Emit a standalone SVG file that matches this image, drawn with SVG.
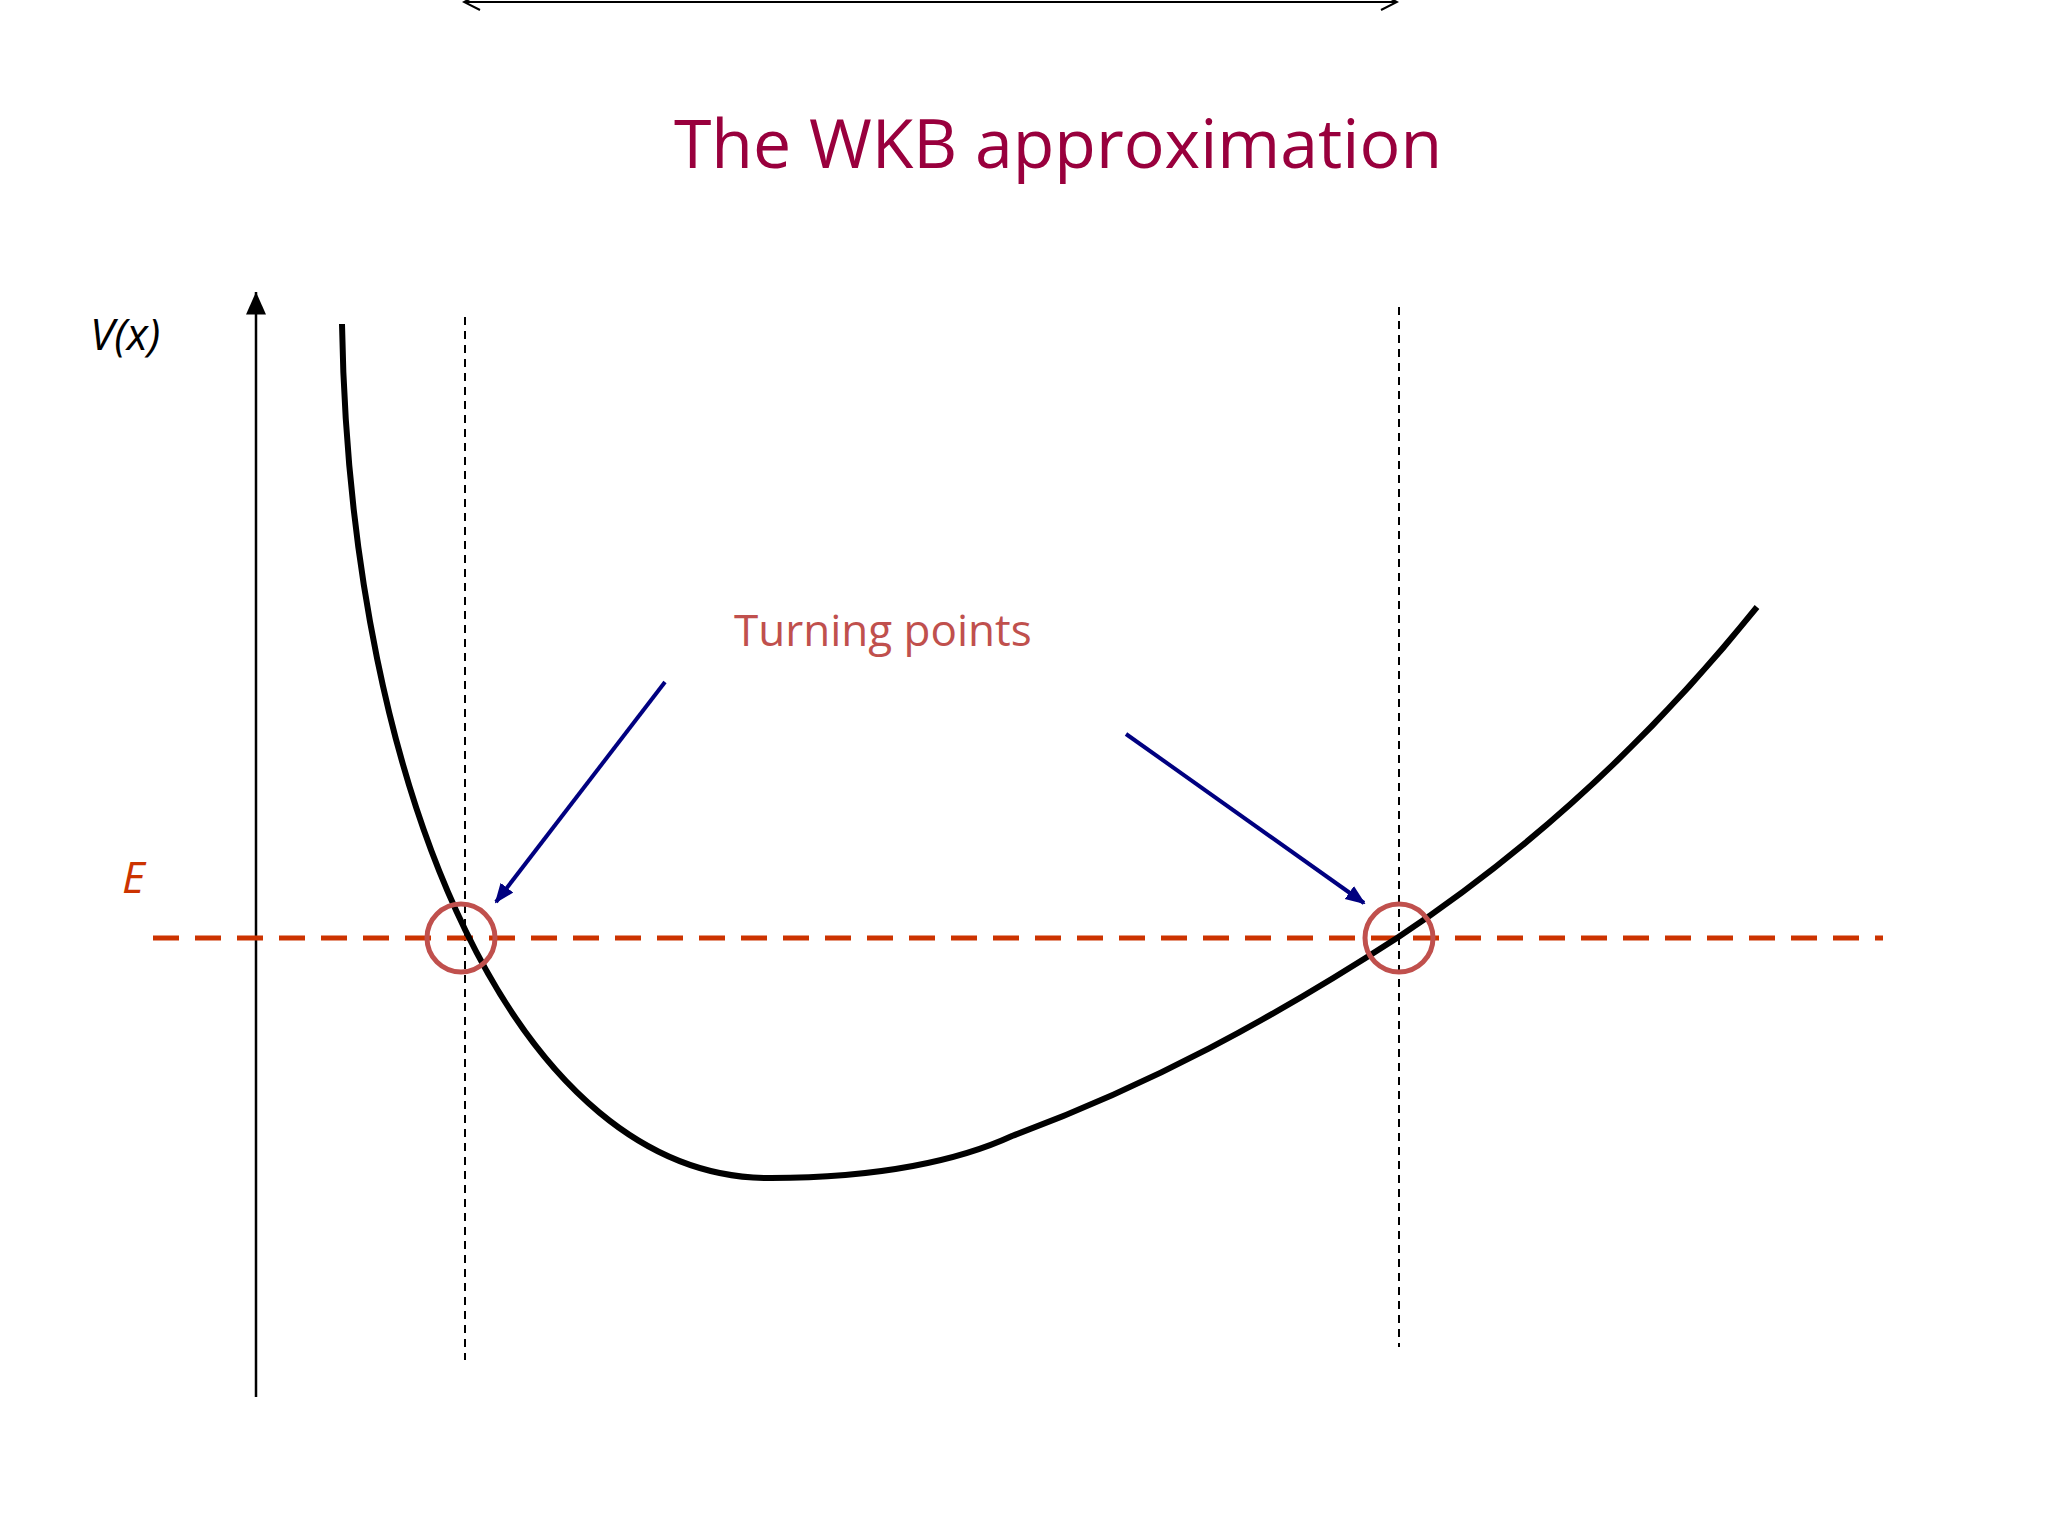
<svg xmlns="http://www.w3.org/2000/svg" width="2048" height="1536" viewBox="0 0 2048 1536">
<defs>
<marker id="ah" markerWidth="10" markerHeight="10" refX="9" refY="5" orient="auto" markerUnits="strokeWidth"><path d="M0,1 L9,5 L0,9 Z" fill="#000"/></marker>
<marker id="ahb" markerWidth="5" markerHeight="5" refX="4.5" refY="2.5" orient="auto" markerUnits="strokeWidth"><path d="M0,0.5 L5,2.5 L0,4.5 Z" fill="#000080"/></marker>
<marker id="oa" markerWidth="10" markerHeight="10" refX="9" refY="5" orient="auto-start-reverse" markerUnits="strokeWidth"><path d="M1,1 L9,5 L1,9" fill="none" stroke="#000"/></marker>
</defs>
<style>
.vd{stroke:#000;stroke-width:2;stroke-dasharray:8 6;fill:none}
.tp{fill:none;stroke:#c0504d;stroke-width:5}
.bl{stroke:#000080;stroke-width:4;marker-end:url(#ahb)}
</style>
<rect width="2048" height="1536" fill="#fff"/>
<line x1="464" y1="2" x2="1397" y2="2" stroke="#000" stroke-width="2" marker-start="url(#oa)" marker-end="url(#oa)"/>
<text x="1058" y="168" text-anchor="middle" font-family="Open Sans, sans-serif" font-size="68" fill="#99003d">The WKB approximation</text>
<line x1="256" y1="1397" x2="256" y2="292" stroke="#000" stroke-width="2.5" marker-end="url(#ah)"/>
<text x="90" y="350" font-family="Open Sans, sans-serif" font-style="italic" font-size="44" fill="#000">V(x)</text>
<text x="122" y="893" font-family="Open Sans, sans-serif" font-style="italic" font-size="44" fill="#cc3300">E</text>
<line class="vd" x1="465" y1="317" x2="465" y2="1360"/>
<line class="vd" x1="1399" y1="307" x2="1399" y2="1347"/>
<line x1="153" y1="938" x2="1883" y2="938" stroke="#cc3300" stroke-width="5" stroke-dasharray="26 16"/>
<path d="M342,324 C350,800 520,1180 771,1178 C880,1178 960,1160 1012,1136 C1150,1085 1270,1020 1397,938 C1530,850 1650,740 1757,607" fill="none" stroke="#000" stroke-width="6"/>
<g id="turning">
<circle class="tp" cx="461" cy="938" r="34"/>
<circle class="tp" cx="1399" cy="938" r="34"/>
<text x="734" y="646" font-family="Open Sans, sans-serif" font-size="44" fill="#c0504d">Turning points</text>
</g>
<g id="connectors">
<line class="bl" x1="665" y1="682" x2="496" y2="902"/>
<line class="bl" x1="1126" y1="734" x2="1364" y2="903"/>
</g>
</svg>
